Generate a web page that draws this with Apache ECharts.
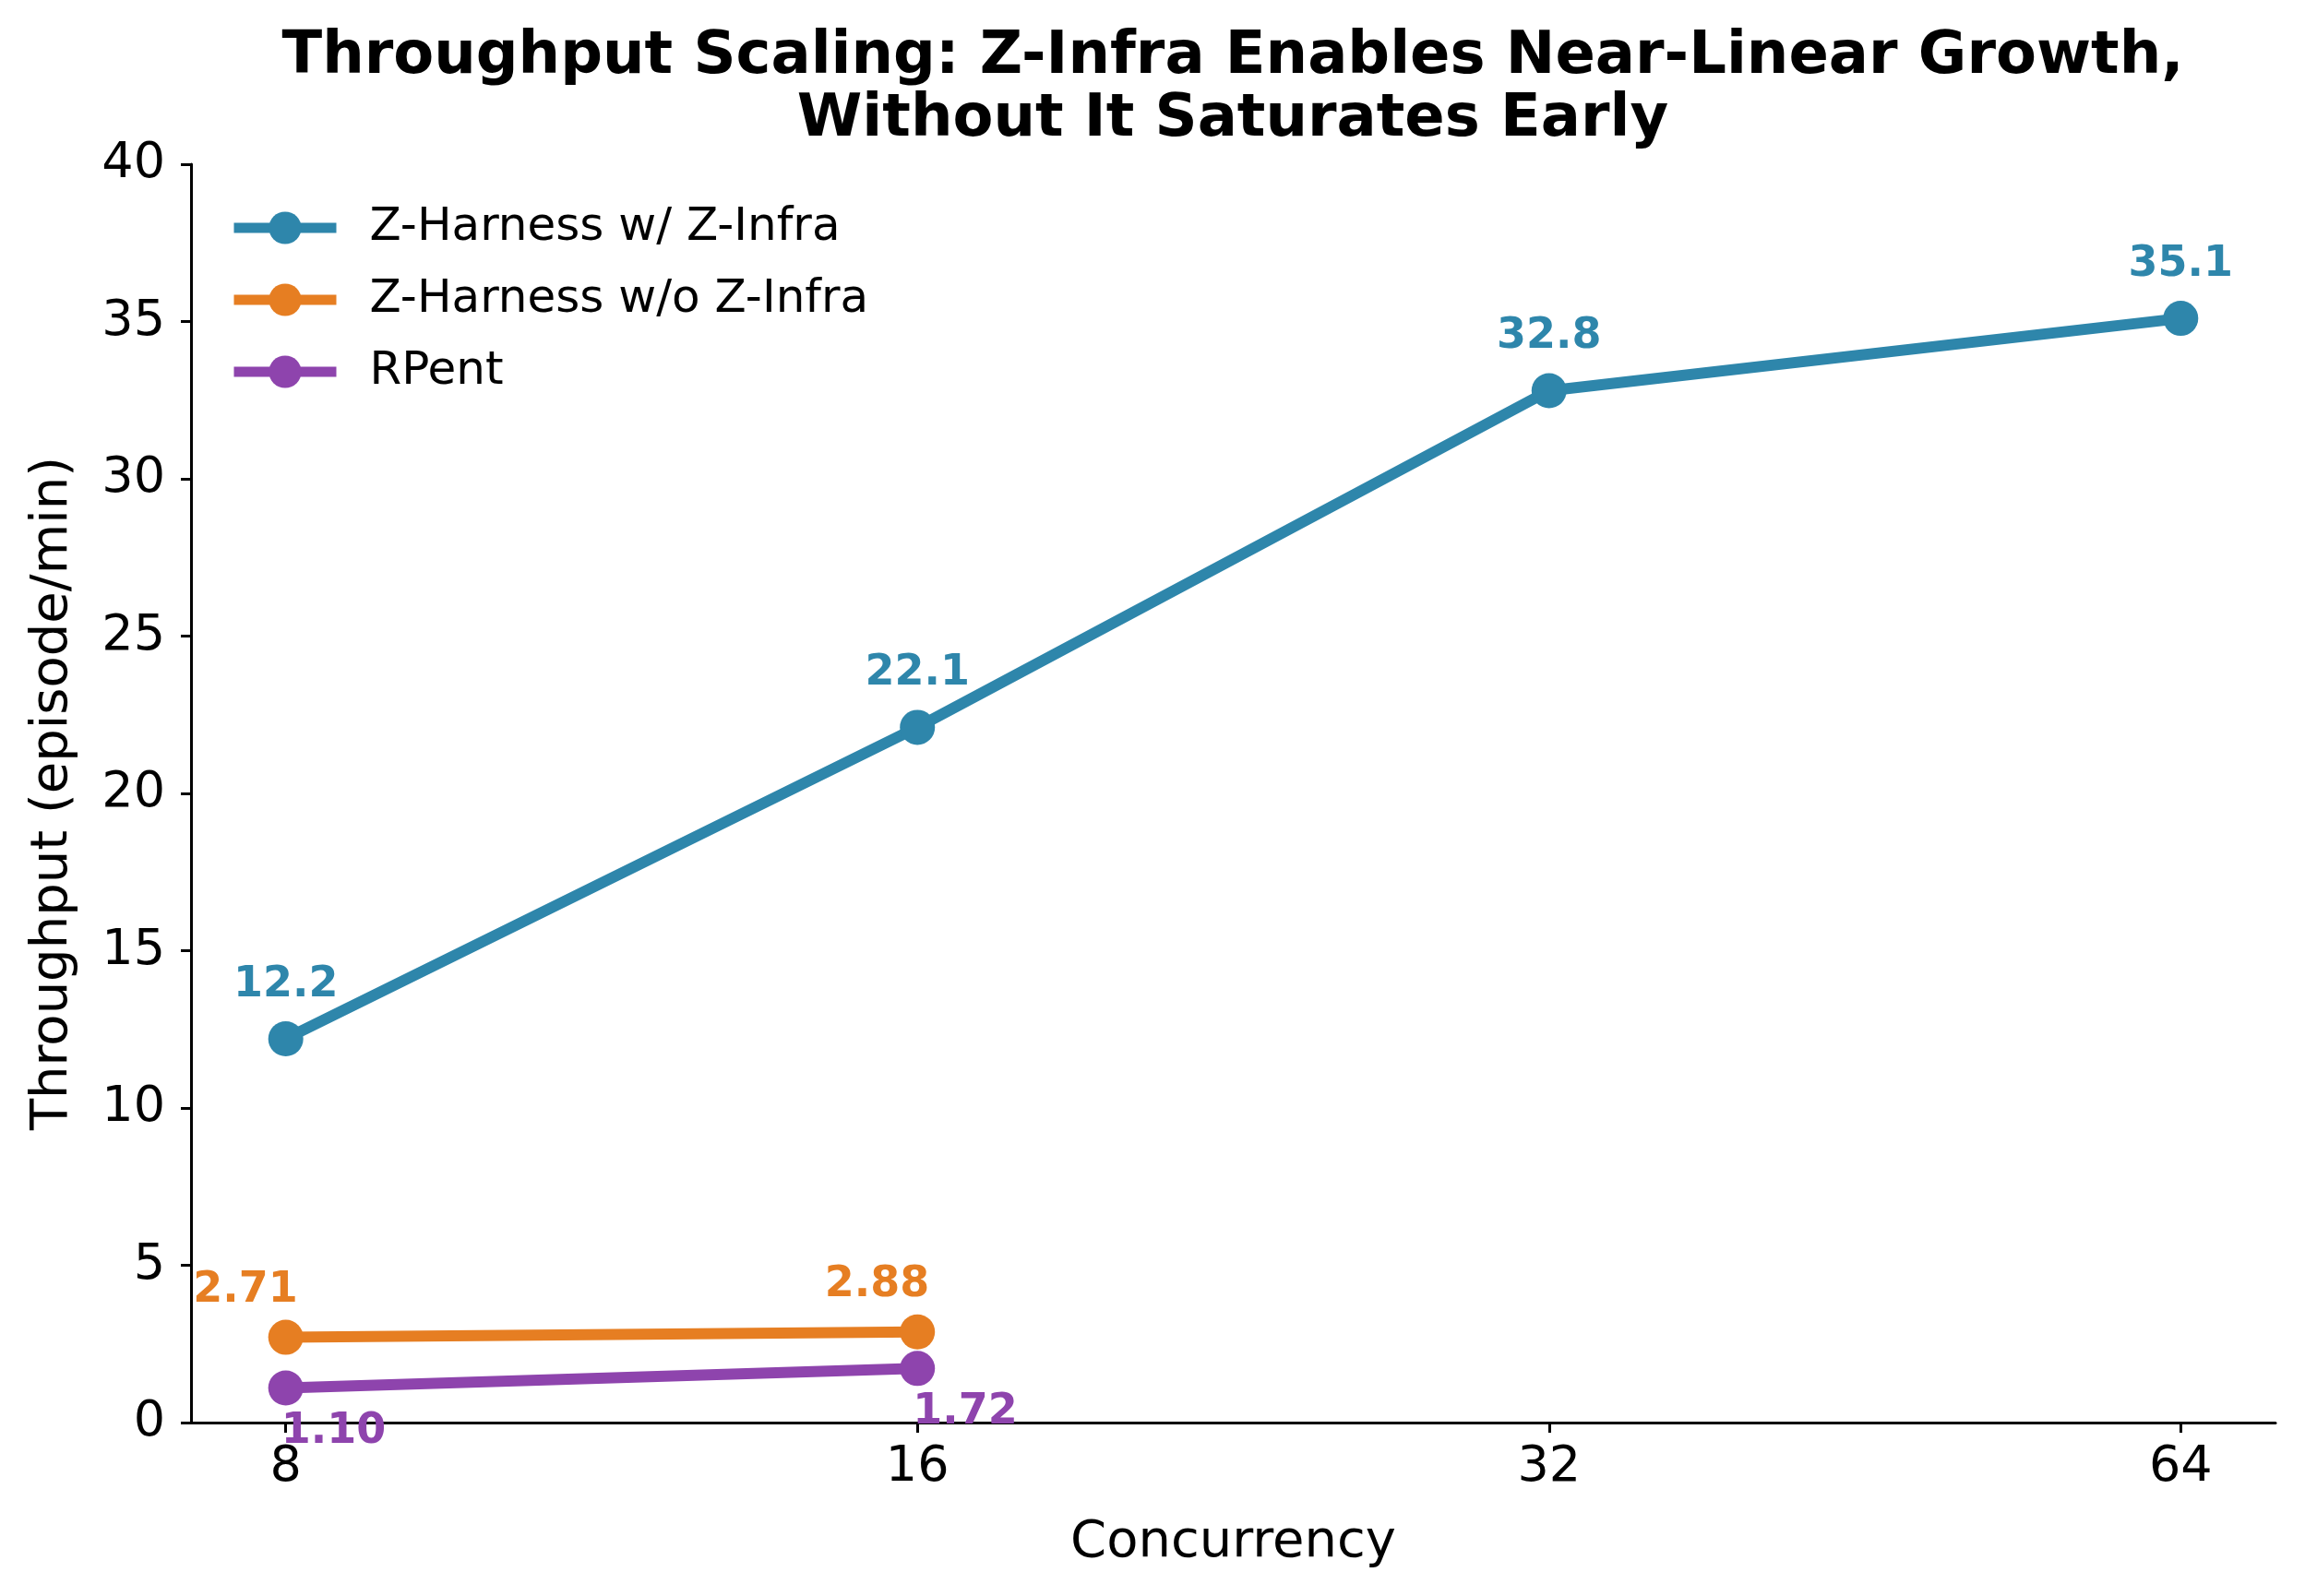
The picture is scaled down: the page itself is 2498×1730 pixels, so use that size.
<!DOCTYPE html>
<html>
  <head>
    <meta charset="UTF-8" />
    <title>Throughput Scaling</title>
    <script src="https://cdn.jsdelivr.net/npm/echarts@6.0.0/dist/echarts.min.js"></script>
    <style>
      html, body { margin: 0; padding: 0; background: #fff; }
    </style>
  </head>
  <body>
    <div id="chart" style="width: 2498px; height: 1730px"></div>
  </body>
  <script>
    // concurrency levels, plotted evenly spaced (by index)
    const concurrency = ['8', '16', '32', '64'];
    const withInfra = [12.2, 22.1, 32.8, 35.1];
    const withoutInfra = [2.71, 2.88];
    const rpent = [1.10, 1.72];
    const yTicks = [0, 5, 10, 15, 20, 25, 30, 35, 40];

    const names = ['Z-Harness w/ Z-Infra', 'Z-Harness w/o Z-Infra', 'RPent'];
    const colors = ['#2E86AB', '#E67E22', '#8E44AD'];
    const font = 'DejaVu Sans';

    let chart = echarts.init(document.getElementById('chart'));

    function toPoints(values) {
      return values.map((v, i) => [i, v]);
    }

    function lineSeries(idx, values, digits, labelOpt) {
      return {
        name: names[idx],
        type: 'line',
        data: toPoints(values),
        symbol: 'circle',
        symbolSize: 38,
        lineStyle: { color: colors[idx], width: 12 },
        itemStyle: { color: colors[idx], borderWidth: 0 },
        label: Object.assign({
          show: true,
          position: 'inside',
          color: colors[idx],
          fontFamily: font,
          fontWeight: 'bold',
          fontSize: 46,
          verticalAlign: 'middle',
          formatter: p => p.value[1].toFixed(digits)
        }, labelOpt),
        emphasis: { disabled: true },
        z: 3 - idx
      };
    }

    chart.setOption({
      animation: false,
      backgroundColor: '#fff',
      title: {
        text: 'Throughput Scaling: Z-Infra Enables Near-Linear Growth,\nWithout It Saturates Early',
        left: 1336,
        top: 28,
        padding: 0,
        textAlign: 'center',
        textStyle: {
          fontFamily: font,
          fontWeight: 'bold',
          fontSize: 64,
          lineHeight: 68,
          color: '#000'
        }
      },
      legend: {
        orient: 'vertical',
        left: 248,
        top: 222,
        padding: 0,
        itemWidth: 111,
        itemHeight: 44,
        itemGap: 28,
        data: names,
        lineStyle: { width: 11 },
        textStyle: {
          fontFamily: font,
          fontSize: 50,
          color: '#000',
          padding: [0, 0, 0, 31]
        }
      },
      grid: { left: 207, right: 32, top: 178, bottom: 188 },
      xAxis: {
        type: 'value',
        min: -0.15,
        max: 3.15,
        name: 'Concurrency',
        nameLocation: 'middle',
        nameGap: 102,
        nameTextStyle: { fontFamily: font, fontSize: 56, color: '#000' },
        axisLine: { onZero: false, lineStyle: { color: '#000', width: 3 } },
        axisTick: { customValues: [0, 1, 2, 3], length: 11, lineStyle: { color: '#000', width: 3 } },
        axisLabel: {
          customValues: [0, 1, 2, 3],
          formatter: v => concurrency[Math.round(v)],
          fontFamily: font,
          fontSize: 54,
          color: '#000',
          margin: 22
        },
        splitLine: { show: false }
      },
      yAxis: {
        type: 'value',
        min: 0,
        max: 40,
        interval: 5,
        name: 'Throughput (episode/min)',
        nameLocation: 'middle',
        nameGap: 122,
        nameTextStyle: { fontFamily: font, fontSize: 56, color: '#000' },
        axisLine: { show: true, onZero: false, lineStyle: { color: '#000', width: 3 } },
        axisTick: { show: true, length: 11, lineStyle: { color: '#000', width: 3 } },
        axisLabel: {
          fontFamily: font,
          fontSize: 54,
          color: '#000',
          margin: 28,
          formatter: v => (yTicks.indexOf(v) >= 0 ? String(v) : '')
        },
        splitLine: { show: false }
      },
      series: [
        lineSeries(0, withInfra, 1, { align: 'center', offset: [0, -58] }),
        lineSeries(1, withoutInfra, 2, { align: 'right', offset: [13, -51] }),
        lineSeries(2, rpent, 2, { align: 'left', offset: [-5, 48] })
      ]
    });
  </script>
</html>
